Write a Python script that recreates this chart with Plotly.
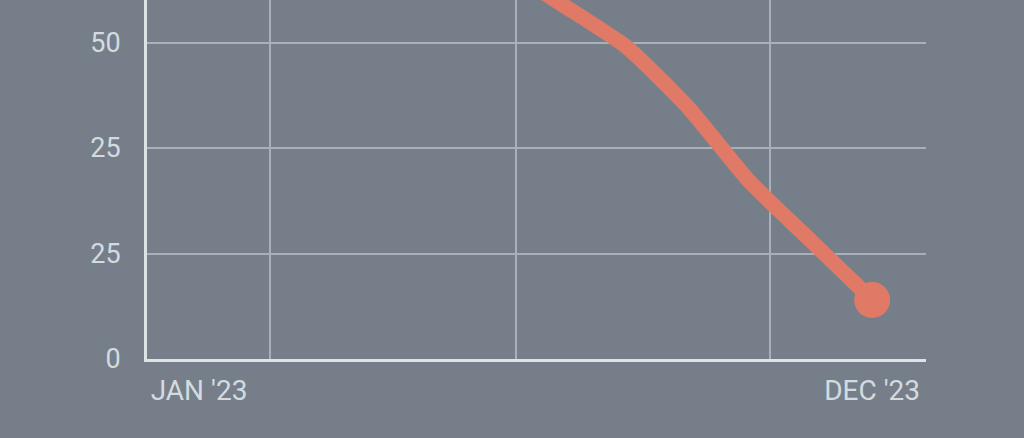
import plotly.graph_objects as go

# Month index (0 = Jan '23 ... 11 = Dec '23)
months = [5, 6, 7, 8, 9, 10, 11]
values = [92.6, 83.4, 73.8, 59.5, 42.0, 28.0, 14.0]

x_tick_vals = [0, 11]
x_tick_text = ["JAN '23", "DEC '23"]
x_grid_vals = [1.16, 5.18, 9.33]

y_tick_vals = [0, 25, 50, 75]
y_tick_text = ["0", "25", "25", "50"]

bg = "#767f89"
line_color = "#e07a66"
grid_color = "#a8b1b9"
axis_color = "#dde4e5"
label_color = "#d3dbe0"

fig = go.Figure()

fig.add_trace(go.Scatter(
    x=months,
    y=values,
    mode="lines",
    line=dict(color=line_color, width=15, shape="spline", smoothing=0.5),
    hoverinfo="skip",
    showlegend=False,
))

# end marker
fig.add_trace(go.Scatter(
    x=months[-1:],
    y=values[-1:],
    mode="markers",
    marker=dict(color=line_color, size=36),
    hoverinfo="skip",
    showlegend=False,
))

fig.update_layout(
    width=1024,
    height=438,
    margin=dict(l=147, r=98, t=0, b=79),
    paper_bgcolor=bg,
    plot_bgcolor=bg,
    font=dict(family="Roboto", size=28, color=label_color),
    xaxis=dict(
        range=[-0.85, 11.88],
        tickvals=x_tick_vals,
        ticktext=x_tick_text,
        showgrid=False,
        zeroline=False,
        showline=True,
        linecolor=axis_color,
        linewidth=3,
        ticks="",
        ticklabelstandoff=4,
        minor=dict(tickvals=x_grid_vals, showgrid=True,
                   gridcolor=grid_color, gridwidth=2, ticks=""),
    ),
    yaxis=dict(
        range=[0, 85.07],
        tickvals=y_tick_vals,
        ticktext=y_tick_text,
        tickfont=dict(size=27),
        showgrid=True,
        gridcolor=grid_color,
        gridwidth=2,
        zeroline=False,
        showline=True,
        linecolor=axis_color,
        linewidth=3,
        ticks="",
        ticklabelstandoff=18,
    ),
)

fig.write_html("out.html", config={"displayModeBar": False},
               post_script="document.body.style.margin='0';")
